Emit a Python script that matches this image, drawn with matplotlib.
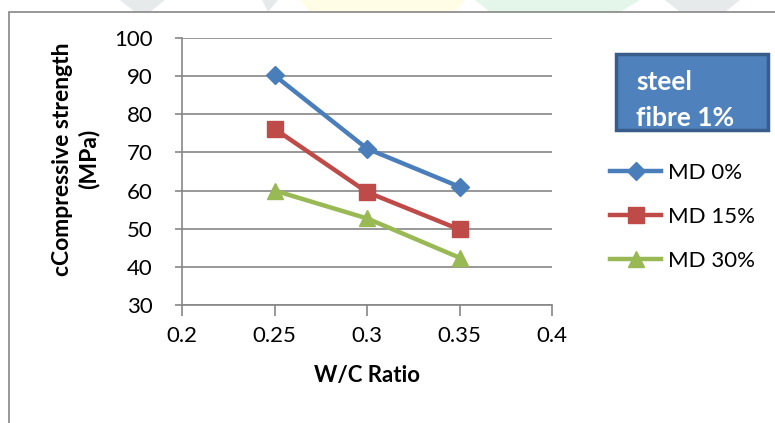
import matplotlib
matplotlib.use("Agg")
import matplotlib.pyplot as plt
from matplotlib.patches import Rectangle, Polygon
from matplotlib.lines import Line2D

wc_ratio = [0.25, 0.3, 0.35]
md_0 = [90.2, 71.0, 61.0]
md_15 = [76.2, 59.6, 49.8]
md_30 = [60.0, 52.7, 42.4]
series_labels = ["MD 0%", "MD 15%", "MD 30%"]
x_ticks = [0.2, 0.25, 0.3, 0.35, 0.4]
x_tick_labels = ["0.2", "0.25", "0.3", "0.35", "0.4"]
y_ticks = [30, 40, 50, 60, 70, 80, 90, 100]

colors = ["#4A7EBB", "#BE4B48", "#98B954"]
markers = ["D", "s", "^"]
msizes = [9, 12, 12]

plt.rcParams["font.family"] = ["Lato", "DejaVu Sans"]

fig = plt.figure(figsize=(7.75, 4.23), dpi=100)

# faint watermark shapes along the top edge (pixel coords)
W, H = 775, 423
for pts, c in [([(120, 0), (165, 0), (150, 12), (135, 12)], "#E6EAEA"),
               ([(262, 0), (278, 0), (268, 12)], "#E6EAEA"),
               ([(300, 0), (465, 0), (455, 12), (310, 12)], "#FFFDE6"),
               ([(475, 0), (640, 0), (620, 12), (490, 12)], "#E4F6EA"),
               ([(665, 0), (740, 0), (725, 12), (680, 12)], "#E6EAEA")]:
    pts = [(x / W, 1 - y / H) for x, y in pts]
    fig.patches.append(Polygon(pts, closed=True, transform=fig.transFigure,
                               facecolor=c, edgecolor="none", zorder=0))

# chart frame
fig.patches.append(Rectangle((9 / W, -0.1), 1.0, 1 - 12 / H + 0.1,
                             transform=fig.transFigure, facecolor="none",
                             edgecolor="#868686", linewidth=1.2, zorder=0))

ax = fig.add_axes([182 / W, 1 - 305 / H, (552 - 182) / W, (305 - 38) / H])
ax.set_facecolor("none")

for vals, lab, c, m, ms in zip([md_0, md_15, md_30], series_labels, colors, markers, msizes):
    ax.plot(wc_ratio, vals, color=c, linewidth=3.2, marker=m, markersize=ms,
            markeredgecolor=c, label=lab, zorder=3)

ax.set_xlim(0.2, 0.4)
ax.set_ylim(30, 100)
ax.set_xticks(x_ticks)
ax.set_xticklabels(x_tick_labels)
ax.set_yticks(y_ticks)
ax.grid(axis="y", color="#868686", linewidth=1.2)
ax.set_axisbelow(True)
for s in ["top", "right"]:
    ax.spines[s].set_visible(False)
for s in ["left", "bottom"]:
    ax.spines[s].set_color("#868686")
    ax.spines[s].set_linewidth(1.2)
ax.tick_params(axis="x", direction="out", length=8, color="#868686", width=1.2,
               labelsize=16, pad=7)
ax.tick_params(axis="y", direction="out", length=5, color="#868686", width=1.2,
               labelsize=16, pad=16)

ax.set_xlabel("W/C Ratio", fontsize=16, fontweight="bold", labelpad=14)
fig.text(76 / W, 1 - 159 / H, "cCompressive strength\n(MPa)", fontsize=16.5,
         fontweight="bold", rotation=90, ha="center", va="center",
         multialignment="center", linespacing=1.25)

# "steel fibre 1%" box
fig.patches.append(Rectangle((616 / W, 1 - 130 / H), 152 / W, 76 / H,
                             transform=fig.transFigure, facecolor="#4F81BD",
                             edgecolor="#385D8A", linewidth=2.5, zorder=2))
fig.text(636 / W, 1 - 100 / H, "steel\nfibre 1%", color="white", fontsize=19,
         fontweight="bold", va="center", ha="left", linespacing=1.65, zorder=3)

# legend
handles = [Line2D([], [], color=c, linewidth=3.2, marker=m, markersize=ms,
                  markeredgecolor=c) for c, m, ms in zip(colors, markers, msizes)]
fig.legend(handles, series_labels, loc="upper left",
           bbox_to_anchor=(610 / W, 1 - 163 / H), frameon=False, fontsize=16,
           handlelength=2.3, handletextpad=0.3, labelspacing=1.08,
           borderpad=0, borderaxespad=0)

fig.savefig("out.png", dpi=100)
